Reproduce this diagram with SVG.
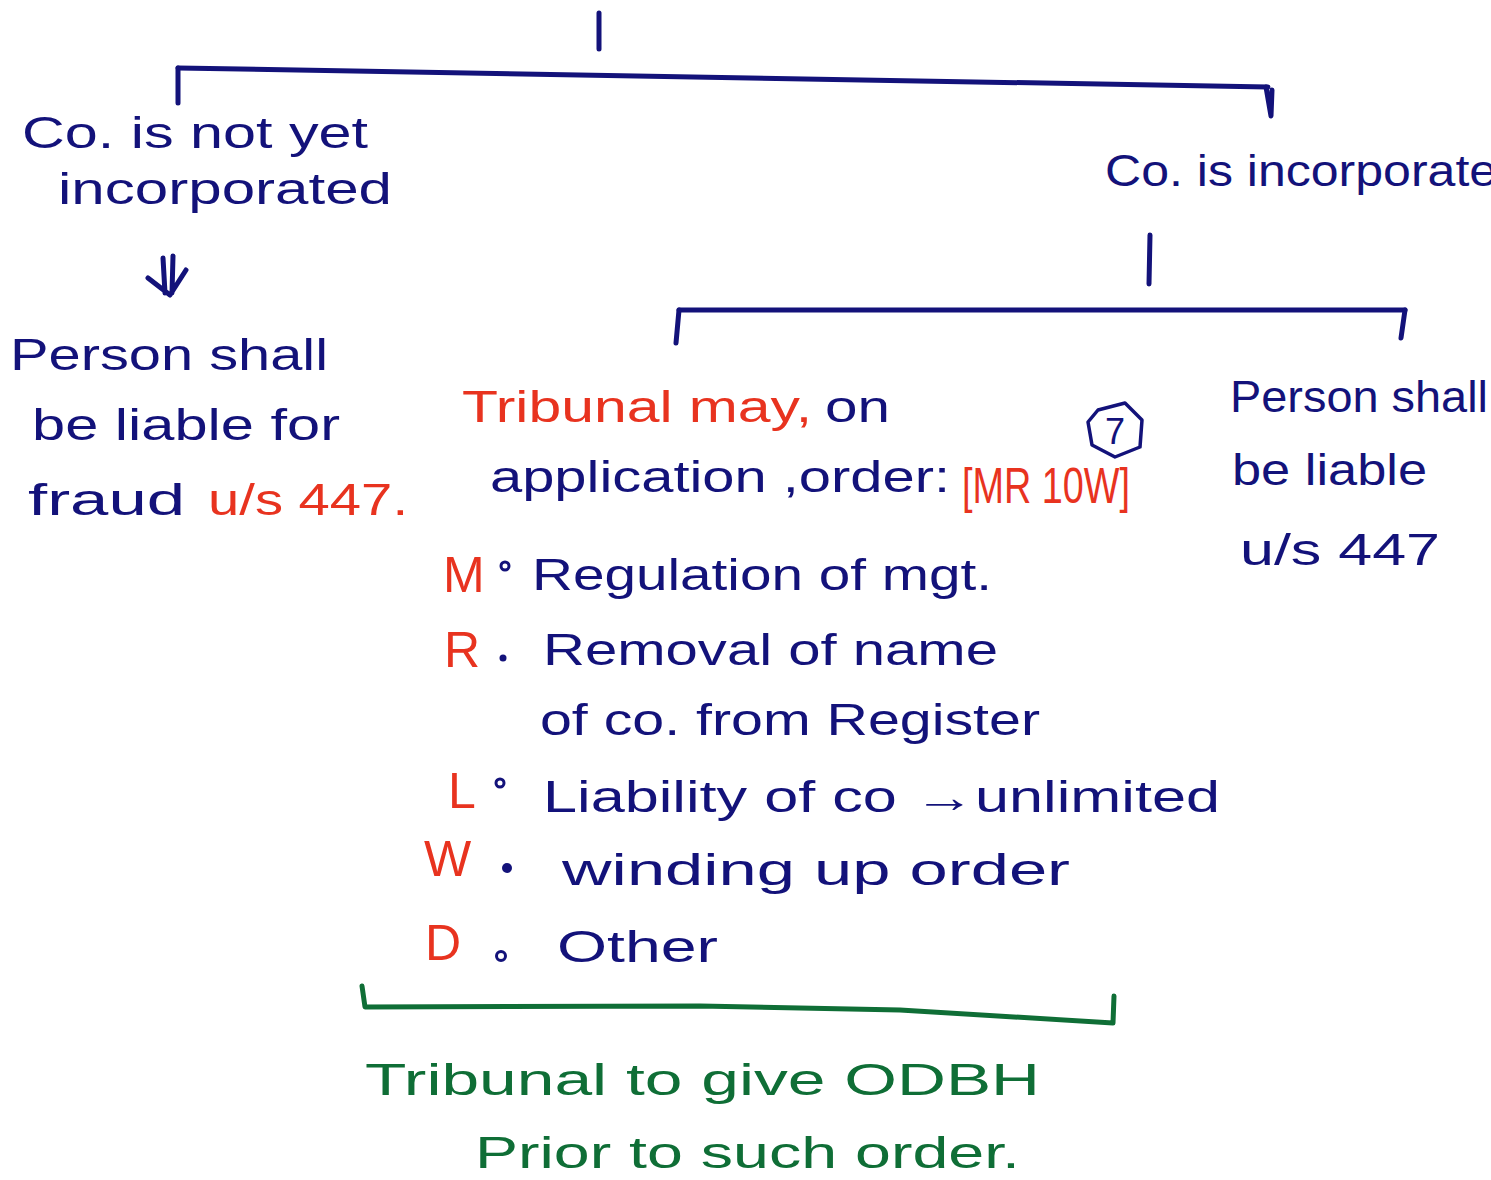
<svg xmlns="http://www.w3.org/2000/svg" width="1491" height="1180" viewBox="0 0 1491 1180">
<style>
text{font-family:"Liberation Sans","DejaVu Sans",sans-serif;font-size:44px}
.n{fill:#13127a}
.r{fill:#e8331f}
.g{fill:#0f6e36}
.big{font-size:50px}
.ln{fill:none;stroke:#13127a;stroke-width:5;stroke-linecap:round;stroke-linejoin:round}
.gl{fill:none;stroke:#0f6e36;stroke-width:5;stroke-linecap:round;stroke-linejoin:round}
</style>
<rect width="1491" height="1180" fill="#ffffff"/>
<g id="connectors">
<path class="ln" d="M599 13 L599 49"/>
<path class="ln" d="M178 68 L1268 87"/>
<path class="ln" d="M178 68 L178 103"/>
<path class="ln" d="M1266 87 L1271 116 L1272 90"/>
<path class="ln" d="M163 258 L165 293 M173 256 L172 293 M148 278 L170 295 L186 270"/>
<path class="ln" d="M1150 235 L1149 284"/>
<path class="ln" d="M679 310 L1405 310"/>
<path class="ln" d="M679 310 L676 343"/>
<path class="ln" d="M1405 310 L1401 338"/>
<path class="gl" d="M362 986 L365 1007 L700 1006 L900 1010 L1113 1023 L1114 996"/>
</g>
<g id="node-not-incorporated">
<text class="n" x="22" y="148" textLength="346" lengthAdjust="spacingAndGlyphs">Co. is not yet</text>
<text class="n" x="58" y="204" textLength="334" lengthAdjust="spacingAndGlyphs">incorporated</text>
</g>
<g id="node-liable-fraud">
<text class="n" x="10" y="370" textLength="318" lengthAdjust="spacingAndGlyphs">Person shall</text>
<text class="n" x="32" y="440" textLength="308" lengthAdjust="spacingAndGlyphs">be liable for</text>
<text class="n" x="28" y="515" textLength="157" lengthAdjust="spacingAndGlyphs">fraud</text>
<text class="r" x="208" y="515" textLength="200" lengthAdjust="spacingAndGlyphs">u/s 447.</text>
</g>
<g id="node-incorporated">
<text class="n" x="1105" y="186" textLength="420" lengthAdjust="spacingAndGlyphs">Co. is incorporated</text>
</g>
<g id="node-tribunal">
<text class="r" x="462" y="422" textLength="350" lengthAdjust="spacingAndGlyphs">Tribunal may,</text>
<text class="n" x="825" y="422" textLength="65" lengthAdjust="spacingAndGlyphs">on</text>
<path d="M1098 410 L1125 403 L1142 420 L1140 447 L1115 457 L1092 445 L1088 422 Z" fill="none" stroke="#13127a" stroke-width="3.5" stroke-linejoin="round"/>
<text class="n" x="1115" y="444" text-anchor="middle" style="font-size:36px">7</text>
<text class="n" x="490" y="492" textLength="460" lengthAdjust="spacingAndGlyphs">application ,order:</text>
<text class="r big" x="962" y="503" textLength="168" lengthAdjust="spacingAndGlyphs">[MR 10W]</text>
</g>
<g id="node-orders">
<text class="r big" x="443" y="592">M</text>
<circle cx="505" cy="566" r="4" fill="none" stroke="#13127a" stroke-width="3"/>
<text class="n" x="532" y="590" textLength="460" lengthAdjust="spacingAndGlyphs">Regulation of mgt.</text>
<text class="r big" x="444" y="667">R</text>
<circle cx="503" cy="658" r="3.5" fill="#13127a"/>
<text class="n" x="543" y="665" textLength="455" lengthAdjust="spacingAndGlyphs">Removal of name</text>
<text class="n" x="540" y="735" textLength="500" lengthAdjust="spacingAndGlyphs">of co. from Register</text>
<text class="r big" x="448" y="808">L</text>
<circle cx="500" cy="783" r="4" fill="none" stroke="#13127a" stroke-width="3"/>
<text class="n" x="543" y="812" textLength="677" lengthAdjust="spacingAndGlyphs">Liability of co →unlimited</text>
<text class="r big" x="424" y="876">W</text>
<circle cx="507" cy="868" r="5" fill="#13127a"/>
<text class="n" x="562" y="885" textLength="508" lengthAdjust="spacingAndGlyphs">winding up order</text>
<text class="r big" x="425" y="960">D</text>
<circle cx="501" cy="956" r="4.5" fill="none" stroke="#13127a" stroke-width="3"/>
<text class="n" x="557" y="962" textLength="161" lengthAdjust="spacingAndGlyphs">Other</text>
</g>
<g id="node-liable-447">
<text class="n" x="1230" y="412" textLength="258" lengthAdjust="spacingAndGlyphs">Person shall</text>
<text class="n" x="1232" y="485" textLength="195" lengthAdjust="spacingAndGlyphs">be liable</text>
<text class="n" x="1240" y="565" textLength="200" lengthAdjust="spacingAndGlyphs">u/s 447</text>
</g>
<g id="node-odbh">
<text class="g" x="365" y="1095" textLength="675" lengthAdjust="spacingAndGlyphs">Tribunal to give ODBH</text>
<text class="g" x="475" y="1168" textLength="545" lengthAdjust="spacingAndGlyphs">Prior to such order.</text>
</g>
</svg>
